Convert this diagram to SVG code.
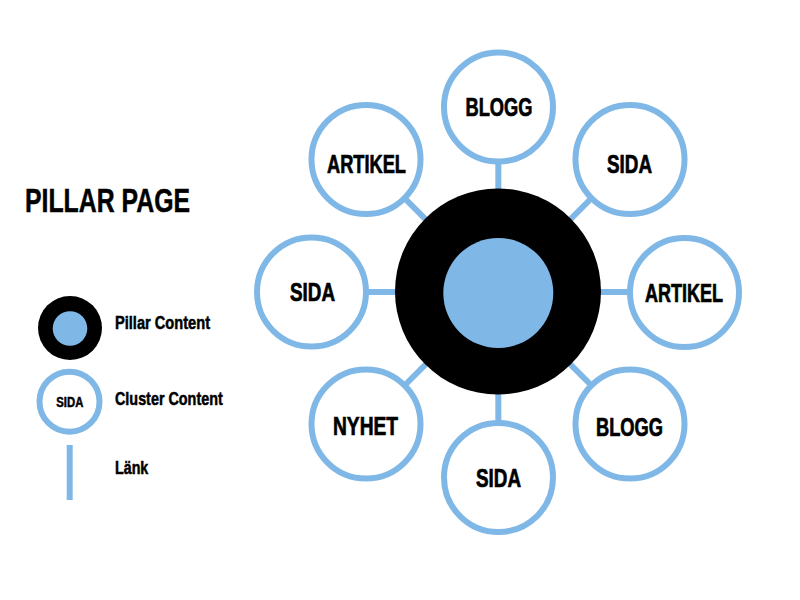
<svg xmlns="http://www.w3.org/2000/svg" width="800" height="600" viewBox="0 0 800 600">
  <style>
    .lbl { font-family: "Liberation Sans Narrow", "Liberation Sans", Arial, sans-serif; font-weight: bold; fill: #000; stroke: #000; stroke-width: 0.5; }
    .node { font-size: 25px; text-anchor: middle; stroke-width: 0.7; }
    .sat { fill: #fff; stroke: #7fb8e6; stroke-width: 6; }
    .link { stroke: #7fb8e6; stroke-width: 6; fill: none; }
    .blue { fill: #7fb8e6; }
  </style>
  <rect width="800" height="600" fill="#fff"/>

  <g id="legend">
    <text class="lbl" x="25" y="212" font-size="34" stroke-width="0.9" textLength="165" lengthAdjust="spacingAndGlyphs">PILLAR PAGE</text>
    <g id="legend-pillar">
      <circle cx="70" cy="328" r="32" fill="#000"/>
      <circle cx="70" cy="328.5" r="17.3" class="blue"/>
      <text class="lbl" x="115" y="329.3" font-size="17.5" textLength="95" lengthAdjust="spacingAndGlyphs">Pillar Content</text>
    </g>
    <g id="legend-cluster">
      <circle cx="69.5" cy="401.7" r="30" class="sat" stroke-width="5"/>
      <text class="lbl" x="69.8" y="406.7" font-size="14" text-anchor="middle" stroke-width="0.3" textLength="27" lengthAdjust="spacingAndGlyphs">SIDA</text>
      <text class="lbl" x="115" y="405" font-size="17.5" textLength="107.7" lengthAdjust="spacingAndGlyphs">Cluster Content</text>
    </g>
    <g id="legend-link">
      <line x1="69.7" y1="445" x2="69.7" y2="500" class="link"/>
      <text class="lbl" x="115" y="474" font-size="17.5" textLength="33.3" lengthAdjust="spacingAndGlyphs">Länk</text>
    </g>
  </g>

  <g id="connectors">
    <line class="link" x1="498" y1="292" x2="498.5" y2="107"/>
    <line class="link" x1="498" y1="292" x2="366" y2="159.5"/>
    <line class="link" x1="498" y1="292" x2="630" y2="159.5"/>
    <line class="link" x1="498" y1="292" x2="311.5" y2="292"/>
    <line class="link" x1="498" y1="292" x2="684.5" y2="292"/>
    <line class="link" x1="498" y1="292" x2="366" y2="424"/>
    <line class="link" x1="498" y1="292" x2="630" y2="424"/>
    <line class="link" x1="498" y1="292" x2="498.5" y2="477.5"/>
  </g>

  <g id="pillar">
    <circle cx="498" cy="291.5" r="103" fill="#000"/>
    <circle cx="498.3" cy="293" r="55" class="blue"/>
  </g>

  <g id="node-blogg-top">
    <circle class="sat" cx="498.5" cy="107" r="54.5"/>
    <text class="lbl node" x="499" y="116" textLength="67" lengthAdjust="spacingAndGlyphs">BLOGG</text>
  </g>
  <g id="node-artikel-topleft">
    <circle class="sat" cx="366" cy="159.5" r="54.5"/>
    <text class="lbl node" x="366.5" y="172.5" textLength="79" lengthAdjust="spacingAndGlyphs">ARTIKEL</text>
  </g>
  <g id="node-sida-topright">
    <circle class="sat" cx="630" cy="159.5" r="54.5"/>
    <text class="lbl node" x="629.5" y="172.5" textLength="45" lengthAdjust="spacingAndGlyphs">SIDA</text>
  </g>
  <g id="node-sida-left">
    <circle class="sat" cx="311.5" cy="292" r="54.5"/>
    <text class="lbl node" x="312.5" y="301" textLength="45" lengthAdjust="spacingAndGlyphs">SIDA</text>
  </g>
  <g id="node-artikel-right">
    <circle class="sat" cx="684.5" cy="292.5" r="54.5"/>
    <text class="lbl node" x="684" y="301.5" textLength="78" lengthAdjust="spacingAndGlyphs">ARTIKEL</text>
  </g>
  <g id="node-nyhet">
    <circle class="sat" cx="366" cy="424" r="54.5"/>
    <text class="lbl node" x="365.5" y="435" textLength="65" lengthAdjust="spacingAndGlyphs">NYHET</text>
  </g>
  <g id="node-blogg-bottomright">
    <circle class="sat" cx="630" cy="424" r="54.5"/>
    <text class="lbl node" x="629.5" y="436" textLength="67" lengthAdjust="spacingAndGlyphs">BLOGG</text>
  </g>
  <g id="node-sida-bottom">
    <circle class="sat" cx="498.5" cy="477.5" r="54.5"/>
    <text class="lbl node" x="498.5" y="486.5" textLength="45" lengthAdjust="spacingAndGlyphs">SIDA</text>
  </g>
</svg>
